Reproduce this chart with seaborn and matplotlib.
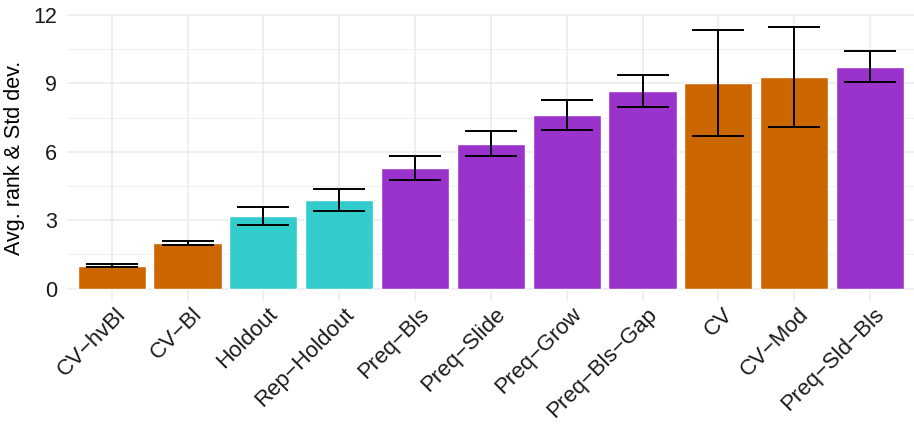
import numpy as np
import pandas as pd
import matplotlib
matplotlib.use('Agg')
import matplotlib.pyplot as plt
import matplotlib.transforms as mtransforms
import seaborn as sns

# datos
metodos = ['CV\u2212hvBl', 'CV\u2212Bl', 'Holdout', 'Rep\u2212Holdout', 'Preq\u2212Bls',
           'Preq\u2212Slide', 'Preq\u2212Grow', 'Preq\u2212Bls\u2212Gap', 'CV', 'CV\u2212Mod',
           'Preq\u2212Sld\u2212Bls']
rango_medio = [1.0, 2.0, 3.19, 3.88, 5.29, 6.35, 7.62, 8.67, 9.02, 9.28, 9.72]
desv_std = [0.07, 0.07, 0.40, 0.49, 0.51, 0.55, 0.66, 0.69, 2.34, 2.20, 0.68]
familia = ['CV', 'CV', 'OOS', 'OOS', 'Preq', 'Preq', 'Preq', 'Preq', 'CV', 'CV', 'Preq']
colores = {'CV': '#CC6600', 'OOS': '#33CCCC', 'Preq': '#9933CC'}

df = pd.DataFrame({'metodo': metodos, 'rango': rango_medio, 'sd': desv_std, 'familia': familia})

sns.set_style('white')
plt.rcParams['font.family'] = ['Liberation Sans', 'DejaVu Sans']

fig = plt.figure(figsize=(9.14, 4.24), dpi=100)
W, H = 914, 424
ax = fig.add_axes([66.5 / W, (H - 301) / H, (W - 66.5) / W, (301 - 14.3) / H])

sns.barplot(data=df, x='metodo', y='rango', hue='familia', palette=colores,
            dodge=False, width=0.9, legend=False, ax=ax, zorder=2, saturation=1)
ax.errorbar(x=np.arange(len(df)), y=df['rango'], yerr=df['sd'], fmt='none',
            ecolor='black', elinewidth=1.4, capsize=19, capthick=1.4, zorder=3)

ax.set_xlim(-0.596, 10.58)
ax.set_ylim(-0.54, 12.03)
ax.set_yticks([0, 3, 6, 9, 12])
ax.set_yticks([1.5, 4.5, 7.5, 10.5], minor=True)
ax.grid(True, which='major', color='#EBEBEB', linewidth=1.1, zorder=0)
ax.grid(True, which='minor', axis='y', color='#EBEBEB', linewidth=0.55, zorder=0)
ax.set_axisbelow(True)
for s in ax.spines.values():
    s.set_visible(False)

ax.tick_params(axis='both', which='both', length=0, labelcolor='#1A1A1A')
ax.tick_params(axis='y', pad=7, labelsize=15.5)
ax.tick_params(axis='x', pad=2, labelsize=16)
ax.set_xlabel('')
ax.set_ylabel('Avg. rank & Std dev.', fontsize=15.5, color='black')
ax.yaxis.set_label_coords(-0.049, 0.5)

# etiquetas giradas 45 grados, ancladas en su extremo derecho
plt.setp(ax.get_xticklabels(), rotation=45, ha='right', va='top', rotation_mode='anchor')
desplaza = mtransforms.ScaledTranslation(0.04, 0, fig.dpi_scale_trans)
for etiqueta in ax.get_xticklabels():
    etiqueta.set_transform(etiqueta.get_transform() + desplaza)

fig.savefig('out.png', dpi=100)
